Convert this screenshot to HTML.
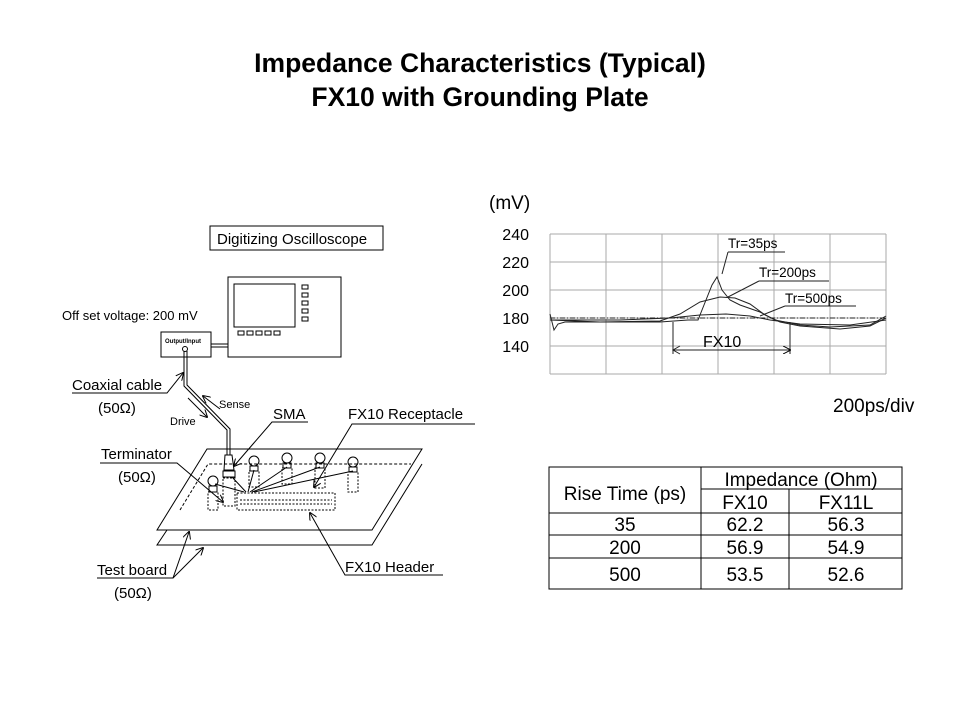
<!DOCTYPE html>
<html><head><meta charset="utf-8"><style>
html,body{margin:0;padding:0;background:#fff;}
svg{display:block;font-family:"Liberation Sans",Arial,sans-serif;}
</style></head><body>
<svg width="960" height="720" viewBox="0 0 960 720" xmlns="http://www.w3.org/2000/svg">
<defs>
<marker id="ah" markerWidth="8" markerHeight="8" refX="7" refY="4" orient="auto" markerUnits="userSpaceOnUse"><path d="M0,0 L8,4 L0,8" fill="none" stroke="#000" stroke-width="1"/></marker>
</defs>
<text x="480" y="72" text-anchor="middle" font-size="26.5" font-weight="bold">Impedance Characteristics (Typical)</text>
<text x="480" y="106" text-anchor="middle" font-size="26.5" font-weight="bold">FX10 with Grounding Plate</text>

<!-- Left diagram -->
<g stroke="#000" fill="none" stroke-width="1">
<rect x="210" y="226" width="173" height="24"/>
<rect x="228" y="277" width="113" height="80"/>
<rect x="234" y="284" width="61" height="43"/>
<rect x="302" y="285" width="6" height="4"/><rect x="302" y="293" width="6" height="4"/><rect x="302" y="301" width="6" height="4"/><rect x="302" y="309" width="6" height="4"/><rect x="302" y="317" width="6" height="4"/>
<rect x="238" y="331" width="6" height="4"/><rect x="247" y="331" width="6" height="4"/><rect x="256" y="331" width="6" height="4"/><rect x="265" y="331" width="6" height="4"/><rect x="274" y="331" width="6" height="4"/>
<rect x="161" y="332" width="50" height="25"/>
<line x1="211" y1="344" x2="228" y2="344"/><line x1="211" y1="347" x2="228" y2="347"/>
<circle cx="185" cy="349" r="2.5"/>
<polyline points="184,351 184,386 227,430 227,455"/>
<polyline points="187,351 187,385 230,429 230,455"/>
<!-- boards -->
<polygon points="207,449 422,449 372,530 157,530"/>
<polyline points="422,464 372,545 157,545 167,530"/>
<polyline points="180,510 208,464 411,464" stroke-dasharray="3,2"/>
<rect x="237" y="493" width="98" height="17" stroke-dasharray="2,1.5"/>
<line x1="240" y1="500" x2="332" y2="500" stroke-dasharray="2,1.5"/>
<line x1="240" y1="504" x2="332" y2="504" stroke-dasharray="2,1.5"/>
<!-- SMA connector -->
<path d="M225,455 L232,455 L234,470 L224,470 Z"/>
<rect x="223" y="471" width="12" height="6"/>
<rect x="223" y="478" width="12" height="28" stroke-dasharray="2,1.5"/>
<!-- posts -->
<g>
<circle cx="213" cy="481" r="5"/><rect x="209" y="486" width="8" height="6"/><rect x="208" y="492" width="10" height="18" stroke-dasharray="2,1.5"/>
<circle cx="254" cy="461" r="5"/><rect x="250" y="466" width="8" height="5"/><rect x="249" y="471" width="10" height="16" stroke-dasharray="2,1.5"/>
<circle cx="287" cy="458" r="5"/><rect x="283" y="463" width="8" height="5"/><rect x="282" y="468" width="10" height="16" stroke-dasharray="2,1.5"/>
<circle cx="320" cy="458" r="5"/><rect x="316" y="463" width="8" height="5"/><rect x="315" y="468" width="10" height="20" stroke-dasharray="2,1.5"/>
<circle cx="353" cy="462" r="5"/><rect x="349" y="467" width="8" height="5"/><rect x="348" y="472" width="10" height="20" stroke-dasharray="2,1.5"/>
</g>
<line x1="215" y1="484" x2="244" y2="492"/><line x1="232" y1="477" x2="246" y2="492"/>
<line x1="254" y1="470" x2="248" y2="492"/><line x1="287" y1="467" x2="250" y2="492"/>
<line x1="320" y1="467" x2="252" y2="492"/><line x1="353" y1="471" x2="254" y2="492"/>
<!-- labels leaders -->
<polyline points="72,393 167,393 183,373" marker-end="url(#ah)"/>
<line x1="188" y1="398" x2="207" y2="417" marker-end="url(#ah)"/>
<line x1="220" y1="409" x2="203" y2="396" marker-end="url(#ah)"/>
<polyline points="308,422 272,422 234,466" marker-end="url(#ah)"/>
<polyline points="475,424 352,424 314,487" marker-end="url(#ah)"/>
<polyline points="100,463 177,463 223,502" marker-end="url(#ah)"/>
<polyline points="97,578 173,578 189,532" marker-end="url(#ah)"/>
<line x1="173" y1="578" x2="203" y2="548" marker-end="url(#ah)"/>
<polyline points="443,575 345,575 310,513" marker-end="url(#ah)"/>
</g>
<text x="217" y="244" font-size="15">Digitizing Oscilloscope</text>
<text x="62" y="320" font-size="13">Off set voltage:  200 mV</text>
<text x="165" y="343" font-size="6" font-weight="bold">Output/Input</text>
<text x="72" y="390" font-size="15">Coaxial cable</text>
<text x="98" y="413" font-size="15">(50Ω)</text>
<text x="170" y="425" font-size="11">Drive</text>
<text x="219" y="408" font-size="11">Sense</text>
<text x="273" y="419" font-size="15">SMA</text>
<text x="348" y="419" font-size="15">FX10 Receptacle</text>
<text x="101" y="459" font-size="15">Terminator</text>
<text x="118" y="482" font-size="15">(50Ω)</text>
<text x="97" y="575" font-size="15">Test board</text>
<text x="114" y="598" font-size="15">(50Ω)</text>
<text x="345" y="572" font-size="15">FX10 Header</text>

<!-- Chart -->
<text x="489" y="209" font-size="19">(mV)</text>
<g font-size="16" text-anchor="end">
<text x="529" y="240">240</text><text x="529" y="268">220</text><text x="529" y="296">200</text><text x="529" y="324">180</text><text x="529" y="352">140</text>
</g>
<g stroke="#aaa" stroke-width="1">
<line x1="550" y1="234" x2="886" y2="234"/><line x1="550" y1="262" x2="886" y2="262"/><line x1="550" y1="290" x2="886" y2="290"/><line x1="550" y1="318" x2="886" y2="318"/><line x1="550" y1="346" x2="886" y2="346"/><line x1="550" y1="374" x2="886" y2="374"/>
<line x1="550" y1="234" x2="550" y2="374"/><line x1="606" y1="234" x2="606" y2="374"/><line x1="662" y1="234" x2="662" y2="374"/><line x1="718" y1="234" x2="718" y2="374"/><line x1="774" y1="234" x2="774" y2="374"/><line x1="830" y1="234" x2="830" y2="374"/><line x1="886" y1="234" x2="886" y2="374"/>
</g>
<g stroke="#222" fill="none" stroke-width="1">
<line x1="550" y1="318" x2="886" y2="318" stroke-dasharray="5,2,1,2"/>
<path d="M550,314 L554,330 L558,324 L565,322 L575,322 L660,322 L688,320 L698,320 L706,300 L712,285 L717,277 L722,290 L730,300 L740,305 L760,312 L775,320 L800,325 L830,327 L870,325 L886,316"/>
<path d="M550,320 L600,322 L660,321 L680,314 L700,302 L720,297 L735,298 L750,304 L765,315 L780,322 L800,326 L840,329 L870,326 L886,318"/>
<path d="M550,320 L620,320 L670,318 L700,315 L726,314 L750,316 L770,320 L800,324 L850,325 L886,320"/>
<polyline points="728,252 785,252"/><line x1="728" y1="252" x2="722" y2="274"/>
<polyline points="759,281 829,281"/><line x1="759" y1="281" x2="728" y2="297"/>
<polyline points="785,306 856,306"/><line x1="785" y1="306" x2="760" y2="316"/>
<line x1="673" y1="322" x2="673" y2="354"/><line x1="790" y1="322" x2="790" y2="354"/>
<line x1="673" y1="350" x2="790" y2="350" marker-end="url(#ah)"/>
<polyline points="680,346 673,350 680,354"/>
</g>
<g font-size="13.5">
<text x="728" y="248">Tr=35ps</text><text x="759" y="277">Tr=200ps</text><text x="785" y="303">Tr=500ps</text>
</g>
<text x="703" y="347" font-size="16">FX10</text>
<text x="833" y="412" font-size="19">200ps/div</text>

<!-- Table -->
<g stroke="#000" stroke-width="1" fill="none">
<rect x="549" y="467" width="353" height="122"/>
<line x1="701" y1="467" x2="701" y2="589"/>
<line x1="789" y1="489" x2="789" y2="589"/>
<line x1="701" y1="489" x2="902" y2="489"/>
<line x1="549" y1="513" x2="902" y2="513"/>
<line x1="549" y1="535" x2="902" y2="535"/>
<line x1="549" y1="558" x2="902" y2="558"/>
</g>
<g font-size="19" text-anchor="middle">
<text x="625" y="500">Rise Time (ps)</text>
<text x="801" y="486">Impedance (Ohm)</text>
<text x="745" y="509">FX10</text><text x="846" y="509">FX11L</text>
<text x="625" y="531">35</text><text x="745" y="531">62.2</text><text x="846" y="531">56.3</text>
<text x="625" y="554">200</text><text x="745" y="554">56.9</text><text x="846" y="554">54.9</text>
<text x="625" y="581">500</text><text x="745" y="581">53.5</text><text x="846" y="581">52.6</text>
</g>
</svg>
</body></html>
